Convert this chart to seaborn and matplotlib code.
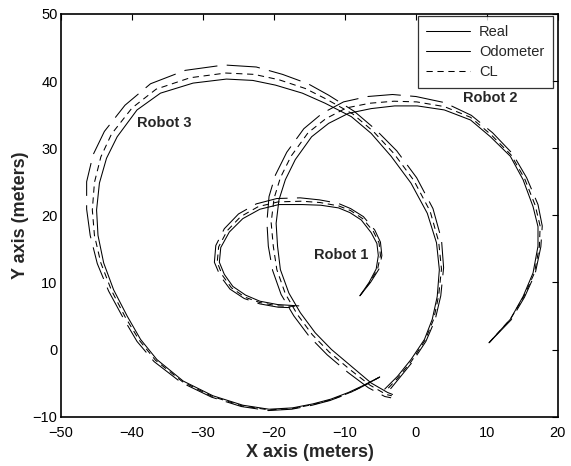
import matplotlib
matplotlib.use("Agg")
import matplotlib.pyplot as plt
from matplotlib.lines import Line2D
import seaborn as sns
import pandas as pd

# ---------------- data (meters) ----------------
# Robot 1
r1_real_x = [-7.9, -6.6, -5.6, -5.3, -5.5, -6.3, -7.7, -9.3, -10.9, -13.4, -16.0, -19.3, -22.0, -24.4, -26.3, -27.5, -27.7, -27.0, -25.8, -24.0, -22.0, -19.5, -16.5]
r1_real_y = [8.0, 10.0, 12.0, 14.0, 15.8, 17.4, 19.3, 20.4, 21.1, 21.5, 21.6, 21.6, 20.9, 19.5, 17.5, 15.2, 13.0, 11.2, 9.4, 8.1, 7.2, 6.7, 6.5]
r1_odo_x = [-7.9, -6.4, -5.2, -4.8, -5.0, -5.8, -7.4, -9.2, -11.0, -13.6, -16.3, -19.6, -22.5, -25.0, -27.0, -28.2, -28.4, -27.6, -26.2, -24.2, -22.0, -19.4, -16.5]
r1_odo_y = [8.0, 10.0, 12.0, 14.0, 16.0, 17.8, 19.8, 21.0, 21.8, 22.3, 22.6, 22.5, 21.7, 20.2, 18.0, 15.5, 13.0, 11.0, 9.0, 7.6, 6.8, 6.3, 6.2]
r1_cl_x = [-7.9, -6.5, -5.4, -5.0, -5.2, -6.0, -7.5, -9.2, -10.9, -13.5, -16.1, -19.4, -22.2, -24.7, -26.6, -27.8, -28.0, -27.3, -26.0, -24.1, -22.0, -19.5, -16.5]
r1_cl_y = [8.0, 10.0, 12.0, 14.0, 15.9, 17.6, 19.5, 20.7, 21.4, 21.9, 22.1, 22.0, 21.3, 19.8, 17.7, 15.3, 13.0, 11.1, 9.2, 7.8, 7.0, 6.5, 6.4]

# Robot 2
r2_real_x = [10.3, 13.3, 15.1, 16.5, 17.2, 17.2, 16.5, 15.1, 13.3, 10.5, 7.7, 4.0, 0.2, -3.0, -6.3, -9.5, -12.3, -14.7, -17.0, -18.4, -19.3, -19.7, -19.5, -19.1, -17.9, -16.3, -14.2, -11.9, -9.1, -6.3, -4.0, -3.3]
r2_real_y = [1.0, 4.5, 7.9, 11.4, 15.4, 18.3, 21.3, 25.3, 28.8, 31.7, 34.2, 35.7, 36.3, 36.3, 35.9, 35.2, 33.7, 31.7, 28.3, 25.3, 22.3, 18.8, 15.4, 11.9, 8.4, 5.5, 2.5, 0.0, -2.5, -5.0, -6.4, -6.7]
r2_odo_x = [10.3, 13.4, 15.3, 16.8, 17.6, 17.8, 17.2, 15.6, 13.6, 10.8, 7.8, 4.0, 0.0, -3.3, -6.8, -10.2, -13.2, -15.8, -18.2, -19.8, -20.7, -21.0, -20.8, -20.2, -19.0, -17.2, -15.0, -12.5, -9.6, -6.7, -4.4, -3.5]
r2_odo_y = [1.0, 4.4, 7.8, 11.3, 15.3, 18.4, 21.6, 25.6, 29.2, 32.3, 34.9, 36.8, 37.7, 38.0, 37.7, 36.9, 35.2, 32.9, 29.4, 26.0, 22.8, 19.0, 15.4, 11.8, 8.2, 5.0, 1.9, -0.8, -3.4, -5.7, -7.0, -7.2]
r2_cl_x = [10.3, 13.3, 15.2, 16.7, 17.4, 17.5, 16.8, 15.3, 13.4, 10.6, 7.7, 4.0, 0.1, -3.1, -6.5, -9.8, -12.7, -15.2, -17.6, -19.1, -20.0, -20.4, -20.1, -19.6, -18.4, -16.7, -14.6, -12.2, -9.4, -6.5, -4.2, -3.4]
r2_cl_y = [1.0, 4.5, 7.9, 11.4, 15.4, 18.4, 21.5, 25.5, 29.0, 32.0, 34.6, 36.2, 36.9, 37.0, 36.7, 36.0, 34.4, 32.3, 28.8, 25.6, 22.5, 18.9, 15.4, 11.9, 8.3, 5.2, 2.2, -0.4, -2.9, -5.3, -6.7, -6.9]

# Robot 3
r3_real_x = [-5.1, -7.5, -9.5, -12.0, -14.5, -17.4, -20.7, -24.4, -28.6, -32.8, -36.5, -38.8, -40.7, -42.6, -44.0, -44.8, -45.0, -44.6, -43.6, -42.1, -39.3, -36.0, -31.4, -26.7, -23.0, -19.8, -16.0, -12.8, -9.1, -6.3, -3.5, -0.7, 1.6, 2.9, 3.3, 3.0, 2.3, 1.2, -0.7, -2.6, -4.4]
r3_real_y = [-4.1, -5.4, -6.4, -7.4, -8.1, -8.7, -8.9, -8.3, -6.9, -4.7, -1.5, 1.5, 5.0, 8.9, 12.9, 17.0, 20.8, 24.8, 28.5, 31.7, 35.7, 38.2, 39.7, 40.3, 40.1, 39.4, 38.2, 36.7, 34.7, 32.2, 28.8, 24.8, 20.3, 15.9, 11.9, 7.9, 4.5, 1.5, -1.5, -4.0, -5.9]
r3_odo_x = [-5.1, -7.5, -9.6, -12.1, -14.6, -17.5, -20.8, -24.6, -28.8, -33.1, -36.9, -39.3, -41.3, -43.3, -44.9, -45.9, -46.4, -46.4, -45.5, -43.9, -41.0, -37.4, -32.5, -27.0, -22.5, -18.8, -15.2, -12.3, -8.7, -5.7, -2.7, 0.1, 2.4, 3.6, 3.9, 3.5, 2.7, 1.4, -0.6, -2.6, -4.0]
r3_odo_y = [-4.1, -5.5, -6.6, -7.6, -8.3, -8.9, -9.1, -8.5, -7.1, -4.9, -1.8, 1.2, 4.8, 8.7, 12.8, 17.0, 20.9, 25.0, 29.0, 32.5, 36.4, 39.6, 41.6, 42.4, 42.1, 41.0, 39.6, 37.9, 35.5, 32.8, 29.6, 25.6, 21.0, 16.4, 12.2, 8.0, 4.4, 1.2, -2.0, -4.6, -6.4]
r3_cl_x = [-5.1, -7.5, -9.5, -12.0, -14.5, -17.4, -20.7, -24.5, -28.7, -32.9, -36.7, -39.0, -41.0, -42.9, -44.4, -45.3, -45.6, -45.3, -44.4, -42.9, -40.0, -36.6, -31.8, -26.8, -22.8, -19.3, -15.6, -12.6, -8.9, -6.0, -3.1, -0.3, 2.0, 3.2, 3.6, 3.2, 2.5, 1.3, -0.6, -2.6, -4.2]
r3_cl_y = [-4.1, -5.5, -6.5, -7.5, -8.2, -8.8, -9.0, -8.4, -7.0, -4.8, -1.6, 1.4, 4.9, 8.8, 12.9, 17.0, 20.8, 24.9, 28.7, 32.1, 36.0, 38.8, 40.5, 41.2, 41.0, 40.2, 38.9, 37.3, 35.1, 32.5, 29.2, 25.2, 20.6, 16.1, 12.0, 8.0, 4.5, 1.4, -1.7, -4.3, -6.1]

series_labels = ["Real", "Odometer", "CL"]
robot_labels = ["Robot 1", "Robot 2", "Robot 3"]
robot_label_x = [-10.6, 10.5, -35.4]
robot_label_y = [14.1, 37.5, 33.8]
x_ticks = [-50, -40, -30, -20, -10, 0, 10, 20]
y_ticks = [-10, 0, 10, 20, 30, 40, 50]

# ---------------- style ----------------
sns.set_theme(style="white")
plt.rcParams["font.family"] = ["Liberation Sans", "DejaVu Sans"]

fig = plt.figure(figsize=(5.71, 4.66), dpi=100)
ax = fig.add_axes([0.107, 0.106, 0.870, 0.864])

lw = 0.75
styles = {
    "Real": dict(linestyle="-"),
    "Odometer": dict(linestyle=(0, (32, 9))),
    "CL": dict(linestyle=(0, (6, 4.5))),
}

curves = [
    ("Odometer", r1_odo_x, r1_odo_y), ("CL", r1_cl_x, r1_cl_y), ("Real", r1_real_x, r1_real_y),
    ("Odometer", r2_odo_x, r2_odo_y), ("CL", r2_cl_x, r2_cl_y), ("Real", r2_real_x, r2_real_y),
    ("Odometer", r3_odo_x, r3_odo_y), ("CL", r3_cl_x, r3_cl_y), ("Real", r3_real_x, r3_real_y),
]
for name, xs, ys in curves:
    df = pd.DataFrame({"x": xs, "y": ys})
    sns.lineplot(data=df, x="x", y="y", sort=False, estimator=None, ax=ax,
                 color="black", linewidth=lw, **styles[name])

ax.set_xlim(-50, 20)
ax.set_ylim(-10, 50)
ax.set_xticks(x_ticks)
ax.set_yticks(y_ticks)
ax.tick_params(direction="in", length=4, width=0.8, colors="black",
               labelsize=10.5, top=True, right=True)
ax.tick_params(axis="x", pad=6.5)
ax.tick_params(axis="y", pad=2.5)
for s in ax.spines.values():
    s.set_visible(True)
    s.set_color("black")
    s.set_linewidth(1.2)

ax.set_xlabel("X axis (meters)", fontsize=13, fontweight="bold", labelpad=3.5)
ax.set_ylabel("Y axis (meters)", fontsize=13, fontweight="bold", labelpad=3)

for lab, lx, ly in zip(robot_labels, robot_label_x, robot_label_y):
    ax.text(lx, ly, lab, fontsize=10.5, fontweight="bold", ha="center", va="center")

handles = [
    Line2D([0], [0], color="black", lw=lw, linestyle="-"),
    Line2D([0], [0], color="black", lw=lw, linestyle="-"),
    Line2D([0], [0], color="black", lw=lw, linestyle=(0, (6, 4.5))),
]
leg = ax.legend(handles, series_labels, loc="upper right", bbox_to_anchor=(0.990, 0.995),
                fontsize=10.5, frameon=True, fancybox=False, handlelength=3.0,
                handletextpad=0.6, labelspacing=0.42, borderpad=0.6, borderaxespad=0.0)
leg.get_frame().set_edgecolor("black")
leg.get_frame().set_linewidth(0.9)
leg.set_zorder(5)

fig.savefig("out.png", dpi=100, facecolor="white")
